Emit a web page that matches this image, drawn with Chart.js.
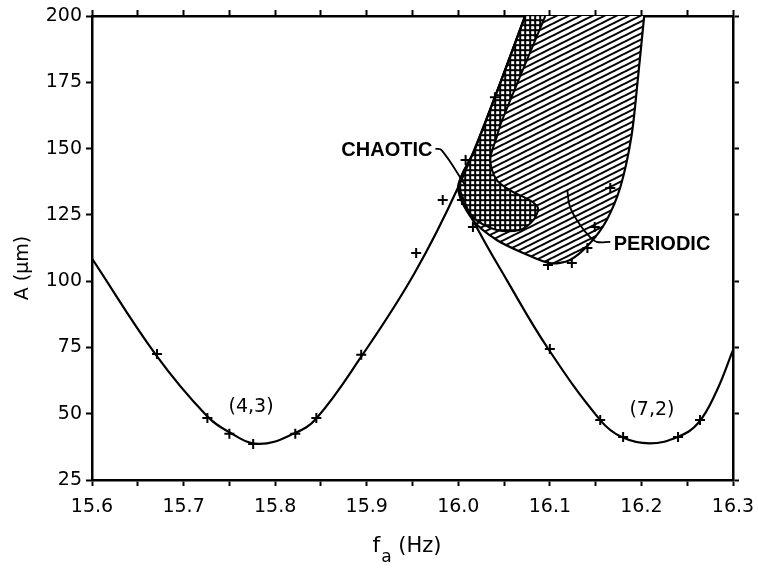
<!DOCTYPE html>
<html>
<head>
<meta charset="utf-8">
<script src="https://cdn.jsdelivr.net/npm/chart.js@4.4.1/dist/chart.umd.min.js"></script>
<style>
  html, body { margin: 0; padding: 0; background: #fff; }
  #wrap { width: 758px; height: 574px; }
</style>
</head>
<body>
<div id="wrap"><canvas id="resChart" width="758" height="574"></canvas></div>
<script>
// tick labels
const xTickLabels = ['15.6', '15.7', '15.8', '15.9', '16.0', '16.1', '16.2', '16.3'];
const yTickLabels = ['25', '50', '75', '100', '125', '150', '175', '200'];

// (4,3) tongue, left curve (f, A)
const curve43 = [
  [15.6, 108.5], [15.67, 72.1], [15.725, 49.3], [15.75, 43.0], [15.782, 38.6],
  [15.821, 42.6], [15.845, 48.2], [15.894, 71.5], [15.952, 102.9], [16.0, 135.5],
  [16.04, 169.4], [16.073, 200]
];
// (7,2) tongue, right curve
const curve72 = [
  [16.0, 135.5], [16.016, 123.0], [16.053, 100.4], [16.098, 74.6], [16.155, 47.6],
  [16.178, 41.3], [16.209, 38.8], [16.24, 41.3], [16.262, 46.5], [16.282, 58.5],
  [16.3, 74.0]
];
// measured points (+)
const measured = [
  [15.671, 72.5], [15.726, 48.4], [15.75, 42.4], [15.776, 38.6], [15.822, 42.4],
  [15.845, 48.4], [15.894, 72.2], [15.954, 110.6], [15.983, 130.6], [16.004, 130.6],
  [16.008, 145.7], [16.016, 120.4], [16.04, 169.4], [16.098, 106.1], [16.124, 106.8],
  [16.141, 112.5], [16.149, 120.4], [16.166, 135.1], [16.1, 74.4], [16.155, 47.6],
  [16.18, 41.2], [16.24, 41.2], [16.264, 47.6]
];
// periodic region outline
const periodicRegion = [
  [16.073, 200], [16.04, 169.4], [16.018, 149.5], [16.0, 135.5], [16.016, 123.0],
  [16.042, 115.5], [16.071, 110.6], [16.1, 106.8], [16.122, 108.0], [16.144, 114.4],
  [16.162, 123.0], [16.177, 135.5], [16.189, 154.4], [16.196, 175.9], [16.203, 200]
];
// chaotic region outline
const chaoticRegion = [
  [16.073, 200], [16.04, 169.4], [16.018, 149.5], [16.0, 135.5], [16.016, 124.2],
  [16.042, 119.3], [16.067, 119.3], [16.082, 123.0], [16.087, 127.6], [16.078, 130.6],
  [16.06, 133.6], [16.042, 138.1], [16.035, 145.7], [16.042, 154.4], [16.048, 160.8],
  [16.095, 200]
];
// label leaders
const chaoticLeader = [[15.975, 150.0], [15.982, 149.3], [16.008, 136.0]];
const periodicLeader = [[16.119, 134.4], [16.122, 128.0], [16.133, 121.2], [16.144, 116.6], [16.151, 114.8], [16.166, 114.8]];

// text labels in data coordinates
const notes = [
  { text: 'CHAOTIC', x: 15.922, y: 149.1, font: 'bold 20px "Liberation Sans"' },
  { text: 'PERIODIC', x: 16.2225, y: 114.0, font: 'bold 20px "Liberation Sans"' },
  { text: '(4,3)', x: 15.7737, y: 52.5, font: '19px "DejaVu Sans"' },
  { text: '(7,2)', x: 16.2115, y: 51.4, font: '19px "DejaVu Sans"' }
];

function pts(arr) {
  return arr.map(function (p) { return { x: p[0], y: p[1] }; });
}

function hatchPattern() {
  const c = document.createElement('canvas');
  c.width = 12; c.height = 6;
  const g = c.getContext('2d');
  g.fillStyle = '#fff';
  g.fillRect(0, 0, 12, 6);
  g.strokeStyle = '#000';
  g.lineWidth = 2;
  [-6, 0, 6, 12].forEach(function (k) {
    g.beginPath();
    g.moveTo(-2, k + 1);
    g.lineTo(14, k - 7);
    g.stroke();
  });
  return g.createPattern(c, 'repeat');
}

function crossPattern() {
  const c = document.createElement('canvas');
  c.width = 5; c.height = 5;
  const g = c.getContext('2d');
  g.fillStyle = '#000';
  g.fillRect(0, 0, 5, 5);
  g.fillStyle = '#fff';
  g.fillRect(1.2, 1.2, 3, 3);
  return g.createPattern(c, 'repeat');
}

const textPlugin = {
  id: 'textPlugin',
  afterDraw: function (chart) {
    const ctx = chart.ctx;
    const xs = chart.scales.x, ys = chart.scales.y;
    ctx.save();
    ctx.fillStyle = '#000';
    ctx.textAlign = 'center';
    ctx.textBaseline = 'middle';
    notes.forEach(function (n) {
      ctx.font = n.font;
      ctx.fillText(n.text, xs.getPixelForValue(n.x), ys.getPixelForValue(n.y));
    });

    // y title
    const area = chart.chartArea;
    ctx.save();
    ctx.translate(23, (area.top + area.bottom) / 2 + 20);
    ctx.rotate(-Math.PI / 2);
    ctx.font = '19px "DejaVu Sans"';
    ctx.fillText('A (μm)', 0, 0);
    ctx.restore();

    // x title: f with subscript a
    const fFont = '22px "DejaVu Sans"', subFont = '17px "DejaVu Sans"', hzFont = '21px "DejaVu Sans"';
    ctx.textAlign = 'left';
    ctx.textBaseline = 'alphabetic';
    ctx.font = fFont; const wf = ctx.measureText('f').width;
    ctx.font = subFont; const wa = ctx.measureText('a').width;
    ctx.font = hzFont; const wr = ctx.measureText(' (Hz)').width;
    const x0 = (area.left + area.right) / 2 - 6 - (wf + wa + wr) / 2;
    const base = chart.height - 22;
    ctx.font = fFont; ctx.fillText('f', x0, base);
    ctx.font = subFont; ctx.fillText('a', x0 + wf + 1, base + 10);
    ctx.font = hzFont; ctx.fillText(' (Hz)', x0 + wf + wa + 1, base);
    ctx.restore();
  }
};

function noPad(s) {
  s.paddingLeft = 0; s.paddingRight = 0; s.paddingTop = 0; s.paddingBottom = 0;
}

const gridCfg = { drawOnChartArea: false, drawTicks: true, tickLength: 6, tickWidth: 2, color: '#000' };
const borderCfg = { color: '#000', width: 2.5 };
const tickFont = { family: 'DejaVu Sans', size: 19 };

const ctx = document.getElementById('resChart').getContext('2d');
const resChart = new Chart(ctx, {
  type: 'scatter',
  data: {
    datasets: [
      {
        data: pts(measured), pointStyle: 'cross', pointRadius: 5, borderWidth: 2,
        borderColor: '#000', showLine: false, order: 0
      },
      {
        data: pts(curve43), showLine: true, pointRadius: 0, borderColor: '#000',
        borderWidth: 2.2, tension: 0.4, order: 1
      },
      {
        data: pts(curve72), showLine: true, pointRadius: 0, borderColor: '#000',
        borderWidth: 2.2, tension: 0.4, order: 1
      },
      {
        data: pts(chaoticLeader), showLine: true, pointRadius: 0, borderColor: '#000',
        borderWidth: 1.8, tension: 0.4, order: 1
      },
      {
        data: pts(periodicLeader), showLine: true, pointRadius: 0, borderColor: '#000',
        borderWidth: 1.8, tension: 0.4, order: 1
      },
      {
        data: pts(chaoticRegion), showLine: true, pointRadius: 0, borderColor: '#000',
        borderWidth: 2, tension: 0.3, fill: 'shape', backgroundColor: crossPattern(), order: 2
      },
      {
        data: pts(periodicRegion), showLine: true, pointRadius: 0, borderColor: '#000',
        borderWidth: 2.2, tension: 0.3, fill: 'shape', backgroundColor: hatchPattern(), order: 3
      }
    ]
  },
  options: {
    responsive: false,
    animation: false,
    layout: { padding: 0 },
    plugins: { legend: { display: false }, tooltip: { enabled: false } },
    scales: {
      x: {
        type: 'linear', position: 'bottom', min: 15.6, max: 16.3,
        ticks: {
          stepSize: 0.05, autoSkip: false, maxRotation: 0, color: '#000', font: tickFont, padding: 10,
          callback: function (v, i) { return i % 2 === 0 ? xTickLabels[i / 2] : ''; }
        },
        grid: gridCfg, border: borderCfg,
        afterFit: function (s) { s.height = 94; noPad(s); }
      },
      x2: {
        type: 'linear', position: 'top', min: 15.6, max: 16.3, display: true,
        ticks: { stepSize: 0.05, autoSkip: false, display: false },
        grid: gridCfg, border: borderCfg,
        afterFit: function (s) { s.height = 16; noPad(s); }
      },
      y: {
        type: 'linear', position: 'left', min: 25, max: 200,
        ticks: {
          stepSize: 25, color: '#000', font: tickFont, padding: 4,
          callback: function (v, i) { return yTickLabels[i]; }
        },
        grid: gridCfg, border: borderCfg,
        afterFit: function (s) { s.width = 92; noPad(s); }
      },
      y2: {
        type: 'linear', position: 'right', min: 25, max: 200, display: true,
        ticks: { stepSize: 25, display: false },
        grid: gridCfg, border: borderCfg,
        afterFit: function (s) { s.width = 25; noPad(s); }
      }
    }
  },
  plugins: [textPlugin]
});
</script>
</body>
</html>
